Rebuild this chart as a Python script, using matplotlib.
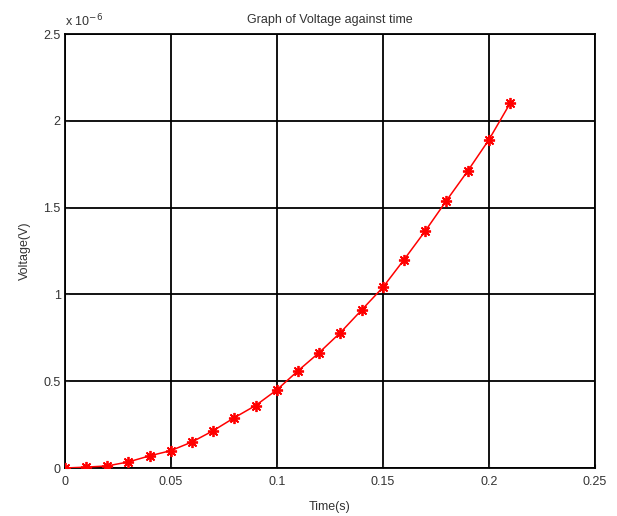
import matplotlib
matplotlib.use('Agg')
import matplotlib.pyplot as plt
from matplotlib.ticker import FuncFormatter

# time (s) and voltage (V)
time_s = [0.00, 0.01, 0.02, 0.03, 0.04, 0.05, 0.06, 0.07, 0.08, 0.09, 0.10,
          0.11, 0.12, 0.13, 0.14, 0.15, 0.16, 0.17, 0.18, 0.19, 0.20, 0.21]
voltage_e6 = [0.0, 0.005, 0.012, 0.035, 0.07, 0.10, 0.15, 0.215, 0.29, 0.36, 0.45,
              0.56, 0.665, 0.78, 0.91, 1.04, 1.20, 1.365, 1.54, 1.71, 1.89, 2.10]
voltage = [v * 1e-6 for v in voltage_e6]

x_ticks = [0, 0.05, 0.1, 0.15, 0.2, 0.25]
y_ticks = [0, 0.5e-6, 1e-6, 1.5e-6, 2e-6, 2.5e-6]

plt.rcParams['font.family'] = ['Liberation Sans', 'DejaVu Sans']
plt.rcParams['font.size'] = 9

fig = plt.figure(figsize=(6.17, 5.16), dpi=100)
ax = fig.add_axes([0.105, 0.093, 0.859, 0.841])

# MATLAB style 'r-*' : line with asterisk markers
ax.plot(time_s, voltage, color='red', linestyle='-', linewidth=1.1,
        marker=(8, 2, 0), markersize=8, markeredgewidth=1.3,
        markeredgecolor='red', zorder=3)

ax.set_xlim(0, 0.25)
ax.set_ylim(0, 2.5e-6)
ax.set_xticks(x_ticks)
ax.set_yticks(y_ticks)
ax.xaxis.set_major_formatter(FuncFormatter(lambda v, p: ('%g' % round(v, 4))))
ax.yaxis.set_major_formatter(FuncFormatter(lambda v, p: ('%g' % round(v * 1e6, 4))))

ax.grid(True, color='black', linestyle='-', linewidth=1.3)
ax.set_axisbelow(True)
for s in ax.spines.values():
    s.set_linewidth(1.3)
    s.set_color('black')
ax.tick_params(direction='in', length=3, width=0.8, colors='#333333', pad=3)
ax.tick_params(axis='x', pad=6)

ax.text(0.0, 1.01, 'x 10$^{-6}$', transform=ax.transAxes, fontsize=9,
        ha='left', va='bottom', color='#333333')
ax.set_title('Graph of Voltage against time', fontsize=9, pad=8, color='#333333')
ax.set_xlabel('Time(s)', fontsize=9, color='#333333', labelpad=9)
ax.set_ylabel('Voltage(V)', fontsize=9, color='#333333', labelpad=9)

fig.savefig('out.png', dpi=100)
